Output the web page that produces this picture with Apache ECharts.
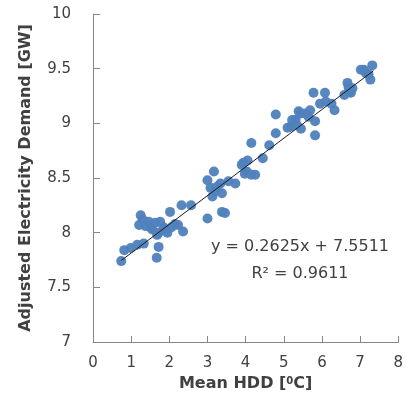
<!DOCTYPE html>
<html>
<head>
<meta charset="utf-8">
<script src="https://cdn.jsdelivr.net/npm/echarts@6/dist/echarts.min.js"></script>
<style>html,body{margin:0;padding:0;background:#fff}#c{width:406px;height:411px}</style>
</head>
<body>
<div id="c"></div>
<script>
var hdd = [0.74,0.82,0.99,1.16,1.33,1.21,1.25,1.46,1.38,1.63,1.55,1.72,1.68,1.76,2.02,2.32,2.23,2.36,1.72,1.67,2.06,1.90,2.15,2.57,1.85,1.30,1.50,1.95,
  3.00,3.17,3.08,3.34,3.13,3.38,3.73,3.38,3.46,3.00,3.94,3.98,3.25,3.55,3.20,
  4.79,4.79,4.15,4.62,4.45,4.03,4.15,3.90,4.25,4.05,
  5.31,5.18,5.44,5.78,6.08,5.95,5.39,5.22,5.56,5.69,5.82,5.82,6.33,6.25,6.10,5.10,5.35,5.45,5.65,
  6.67,6.76,6.59,6.72,6.80,6.70,7.02,7.32,7.27,7.15,7.10,7.22];
var demand = [7.74,7.84,7.86,7.89,7.90,8.07,8.16,8.10,8.06,8.09,8.03,8.00,7.98,8.10,8.19,8.25,8.07,8.01,7.87,7.77,8.05,8.03,8.08,8.25,8.05,8.12,8.05,8.00,
  8.48,8.56,8.41,8.45,8.33,8.36,8.45,8.19,8.18,8.13,8.64,8.54,8.42,8.47,8.38,
  9.08,8.91,8.82,8.80,8.68,8.56,8.53,8.62,8.53,8.66,
  9.03,8.97,9.09,9.28,9.28,9.18,9.11,9.03,9.09,9.12,9.02,8.89,9.12,9.18,9.20,8.96,8.98,8.95,9.06,
  9.37,9.28,9.26,9.29,9.32,9.33,9.49,9.53,9.40,9.46,9.49,9.45];
var slope = 0.2625, intercept = 7.5511, r2 = 0.9611;
var trendX = [0.74, 7.35];
var xTicks = [0,1,2,3,4,5,6,7,8];
var yTicks = [7,7.5,8,8.5,9,9.5,10];

var pts = hdd.map(function(x,i){return [x, demand[i]];});
var trend = trendX.map(function(x){return [x, slope*x + intercept];});
var font = 'DejaVu Sans';
var chart = echarts.init(document.getElementById('c'));
chart.setOption({
  animation:false,
  backgroundColor:'#fff',
  grid:{left:93, right:1, top:14, bottom:69},
  xAxis:{type:'value', min:xTicks[0], max:xTicks[xTicks.length-1], interval:1,
    name:'Mean HDD [{s|0}C]', nameLocation:'middle', nameGap:34,
    nameTextStyle:{fontFamily:font, fontSize:16, fontWeight:'bold', color:'#404040',
      rich:{s:{fontFamily:font, fontSize:10, fontWeight:'bold', color:'#404040', verticalAlign:'top', lineHeight:16}}},
    axisLine:{lineStyle:{color:'#868686', width:1}},
    axisTick:{inside:true, length:6, lineStyle:{color:'#868686'}},
    axisLabel:{fontFamily:font, fontSize:15, color:'#404040', margin:14},
    splitLine:{show:false}},
  yAxis:{type:'value', min:yTicks[0], max:yTicks[yTicks.length-1], interval:0.5,
    name:'Adjusted Electricity Demand [GW]', nameLocation:'middle', nameGap:59,
    nameTextStyle:{fontFamily:font, fontSize:16, fontWeight:'bold', color:'#404040'},
    axisLine:{show:true, lineStyle:{color:'#868686', width:1}},
    axisTick:{show:true, inside:true, length:7, lineStyle:{color:'#868686'}},
    axisLabel:{fontFamily:font, fontSize:15, color:'#404040', margin:22},
    splitLine:{show:false}},
  graphic:[
    {type:'text', x:300, y:239, style:{text:'y = ' + slope + 'x + ' + intercept, fontFamily:font, fontSize:16, fill:'#404040', textAlign:'center'}},
    {type:'text', x:300, y:266, style:{text:'R² = ' + r2, fontFamily:font, fontSize:16, fill:'#404040', textAlign:'center'}}
  ],
  series:[
    {type:'scatter', data:pts, symbolSize:10, itemStyle:{color:'#4f81bd', opacity:0.95}, z:2},
    {type:'line', data:trend, symbol:'none', lineStyle:{color:'#1a1a1a', width:1}, z:3}
  ]
});
</script>
</body>
</html>
